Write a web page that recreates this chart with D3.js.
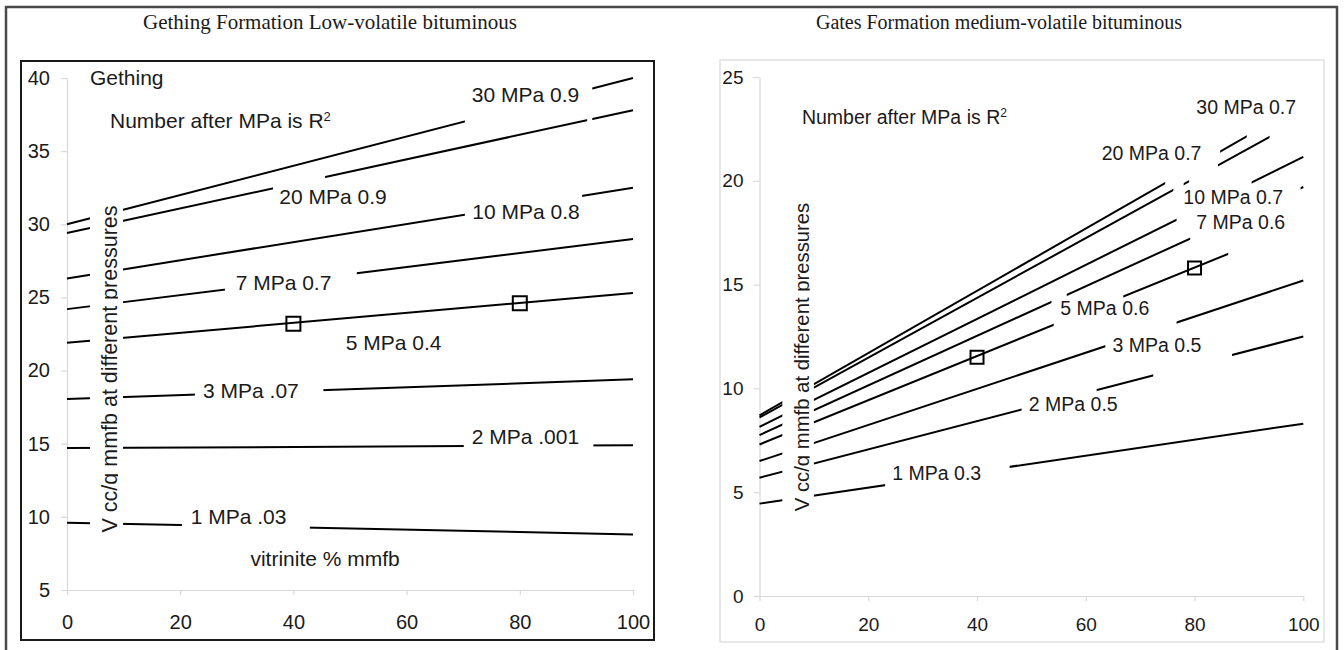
<!DOCTYPE html>
<html>
<head>
<meta charset="utf-8">
<script src="https://cdn.jsdelivr.net/npm/d3@7/dist/d3.min.js"></script>
<style>
  html, body { margin: 0; padding: 0; background: #fff; }
  svg { display: block; }
  .tick text { fill: #1a1a1a; }
</style>
</head>
<body>
<svg id="chart" width="1344" height="650"></svg>
<script>
// ---- data -------------------------------------------------------------
const xTicks = [0, 20, 40, 60, 80, 100];
const pressures = ["30 MPa", "20 MPa", "10 MPa", "7 MPa", "5 MPa", "3 MPa", "2 MPa", "1 MPa"];

// Gething Formation, low-volatile bituminous: trend lines (value at 0 % and 100 % vitrinite)
const gethingTicks = [5, 10, 15, 20, 25, 30, 35, 40];
const gethingR2 = ["0.9", "0.9", "0.8", "0.7", "0.4", ".07", ".001", ".03"];
const gethingAt0 = [30.0, 29.4, 26.3, 24.2, 21.9, 18.05, 14.7, 9.6];
const gethingAt100 = [40.0, 37.8, 32.5, 29.0, 25.3, 19.4, 14.9, 8.8];
const gethingSampleX = [40, 80];
const gethingSampleY = [23.2, 24.6];

// Gates Formation, medium-volatile bituminous
const gatesTicks = [0, 5, 10, 15, 20, 25];
const gatesR2 = ["0.7", "0.7", "0.7", "0.6", "0.6", "0.5", "0.5", "0.3"];
const gatesAt0 = [8.7, 8.6, 8.15, 7.75, 7.3, 6.5, 5.7, 4.45];
const gatesAt100 = [23.7, 23.0, 21.15, 19.7, 17.95, 15.2, 12.5, 8.3];
const gatesSampleX = [40, 80];
const gatesSampleY = [11.5, 15.8];

// ---- layout -----------------------------------------------------------
const svg = d3.select("#chart");
const FONT = "'Liberation Sans', Arial, sans-serif";
const INK = "#1a1a1a";

// outer frame around the whole figure
svg.append("rect")
  .attr("x", 6).attr("y", 7).attr("width", 1331).attr("height", 660)
  .attr("fill", "none").attr("stroke", "#4a4a4a").attr("stroke-width", 2.5);

const panels = [
  {
    id: "gething",
    title: "Gething Formation Low-volatile bituminous",
    titleX: 330, titleSize: 21,
    frame: { x: 21, y: 61, w: 633, h: 579, stroke: "#1a1a1a", width: 2 },
    xRange: [67, 633], yRange: [590, 78], yDomain: [5, 40],
    yTicks: gethingTicks, at0: gethingAt0, at100: gethingAt100, r2: gethingR2,
    sampleX: gethingSampleX, sampleY: gethingSampleY,
    tickFont: 20, xTickPad: 20, yTickPad: 11, labelFont: 21, markerSide: 14,
    // x-ranges (vitrinite %) where each line is broken to leave room for text
    breaks: [
      [[4.06, 9.9], [70.3, 92.8]],
      [[4.06, 9.9], [36.4, 45.6], [91.9, 92.8]],
      [[4.06, 9.9], [70.3, 91]],
      [[4.06, 9.9], [27.9, 51.2]],
      [[4.06, 9.9]],
      [[4.06, 9.9], [22.6, 45.3]],
      [[4.06, 9.9], [70.1, 93]],
      [[4.06, 9.9], [20.3, 42.9]]
    ],
    // series label anchors (centre of text) in data units
    labelAt: [[81.0, 38.83], [47.0, 31.86], [81.1, 30.84], [38.25, 25.98],
              [57.7, 21.88], [32.5, 18.6], [81.0, 15.46], [30.3, 9.99]],
    notes: [
      { text: "Gething", x: 4.06, y: 40.0, anchor: "start" },
      { text: "vitrinite % mmfb", x: 45.6, y: 7.12, anchor: "middle" }
    ],
    r2Note: { x: 7.6, y: 37.06 },
    yTitle: { baselineX: 117, centerY: 369, size: 21.5 }
  },
  {
    id: "gates",
    title: "Gates Formation medium-volatile bituminous",
    titleX: 999, titleSize: 20,
    frame: { x: 720, y: 60, w: 604, h: 582, stroke: "#d9d9d9", width: 1.2 },
    xRange: [759.5, 1303.3], yRange: [596, 77], yDomain: [0, 25],
    yTicks: gatesTicks, at0: gatesAt0, at100: gatesAt100, r2: gatesR2,
    sampleX: gatesSampleX, sampleY: gatesSampleY,
    tickFont: 19, xTickPad: 17, yTickPad: 10, labelFont: 19.5, markerSide: 13,
    breaks: [
      [[4.2, 10], [74.6, 84.7], [89.6, 101]],
      [[4.2, 10], [76.1, 78], [79, 84.3], [93.8, 101]],
      [[4.2, 10], [76.7, 90.5]],
      [[4.2, 10], [53.7, 56.5], [79.2, 99.5]],
      [[4.2, 10], [54.1, 66.9], [86.2, 101]],
      [[4.2, 10], [63.6, 76.7]],
      [[4.2, 10], [48.2, 62], [72.4, 86.9]],
      [[4.2, 10], [23.1, 46]]
    ],
    labelAt: [[89.5, 23.57], [72.1, 21.35], [87.1, 19.23], [88.5, 18.03],
              [63.5, 13.86], [73.1, 12.09], [57.7, 9.25], [32.6, 5.91]],
    notes: [],
    r2Note: { x: 7.8, y: 23.06 },
    yTitle: { baselineX: 808.7, centerY: 357, size: 20.3 }
  }
];

const defs = svg.append("defs");

panels.forEach(p => {
  const g = svg.append("g").attr("class", p.id);

  // panel title
  g.append("text")
    .attr("x", p.titleX).attr("y", 28.5)
    .attr("text-anchor", "middle")
    .attr("font-family", "'Liberation Serif', 'Times New Roman', serif")
    .attr("font-size", p.titleSize).attr("fill", INK)
    .text(p.title);

  // plot frame
  g.append("rect")
    .attr("x", p.frame.x).attr("y", p.frame.y)
    .attr("width", p.frame.w).attr("height", p.frame.h)
    .attr("fill", "none").attr("stroke", p.frame.stroke)
    .attr("stroke-width", p.frame.width);

  const x = d3.scaleLinear().domain([0, 100]).range(p.xRange);
  const y = d3.scaleLinear().domain(p.yDomain).range(p.yRange);

  // axes
  const xAxis = g.append("g")
    .attr("transform", `translate(0,${p.yRange[0]})`)
    .call(d3.axisBottom(x).tickValues(xTicks).tickSize(5).tickSizeOuter(0)
      .tickPadding(p.xTickPad).tickFormat(d3.format("d")));
  const yAxis = g.append("g")
    .attr("transform", `translate(${p.xRange[0]},0)`)
    .call(d3.axisLeft(y).tickValues(p.yTicks).tickSize(6).tickSizeOuter(0)
      .tickPadding(p.yTickPad).tickFormat(d3.format("d")));
  [xAxis, yAxis].forEach(a => {
    a.select(".domain").attr("stroke", "#d9d9d9").attr("stroke-width", 1.2);
    a.selectAll(".tick line").attr("stroke", "#d9d9d9").attr("stroke-width", 1.2);
    a.selectAll(".tick text").attr("font-family", FONT).attr("font-size", p.tickFont).attr("fill", INK);
  });

  // trend lines, one per pressure, broken where text sits
  const line = d3.line().x(d => x(d[0])).y(d => y(d[1]));
  pressures.forEach((name, i) => {
    const maskId = `${p.id}-gap-${i}`;
    const mask = defs.append("mask").attr("id", maskId)
      .attr("maskUnits", "userSpaceOnUse")
      .attr("x", 0).attr("y", 0).attr("width", 1344).attr("height", 650);
    mask.append("rect").attr("x", 0).attr("y", 0)
      .attr("width", 1344).attr("height", 650).attr("fill", "#fff");
    p.breaks[i].forEach(([a, b]) => {
      mask.append("rect")
        .attr("x", x(a)).attr("y", 0)
        .attr("width", x(b) - x(a)).attr("height", 650)
        .attr("fill", "#000");
    });
    g.append("path")
      .datum([[0, p.at0[i]], [100, p.at100[i]]])
      .attr("d", line)
      .attr("fill", "none").attr("stroke", "#000")
      .attr("stroke-width", 2).attr("mask", `url(#${maskId})`);

    // series label: pressure and R²
    const [lx, ly] = p.labelAt[i];
    g.append("text")
      .attr("x", x(lx)).attr("y", y(ly)).attr("dy", "0.35em")
      .attr("text-anchor", "middle")
      .attr("font-family", FONT).attr("font-size", p.labelFont).attr("fill", INK)
      .text(`${name} ${p.r2[i]}`);
  });

  // measured samples on the 5 MPa line
  const sq = d3.symbol().type(d3.symbolSquare).size(p.markerSide * p.markerSide);
  g.selectAll("path.sample")
    .data(p.sampleX.map((vx, k) => [vx, p.sampleY[k]]))
    .join("path").attr("class", "sample")
    .attr("transform", d => `translate(${x(d[0])},${y(d[1])})`)
    .attr("d", sq)
    .attr("fill", "none").attr("stroke", "#000").attr("stroke-width", 2);

  // free-standing notes
  p.notes.forEach(n => {
    g.append("text")
      .attr("x", x(n.x)).attr("y", y(n.y)).attr("dy", "0.35em")
      .attr("text-anchor", n.anchor)
      .attr("font-family", FONT).attr("font-size", p.labelFont).attr("fill", INK)
      .text(n.text);
  });

  const r2 = g.append("text")
    .attr("x", x(p.r2Note.x)).attr("y", y(p.r2Note.y)).attr("dy", "0.35em")
    .attr("font-family", FONT).attr("font-size", p.labelFont).attr("fill", INK)
    .text("Number after MPa is R");
  r2.append("tspan")
    .attr("dy", "-0.55em").attr("font-size", p.labelFont * 0.62)
    .text("2");

  // y-axis title, rotated; its box ends at the baseline so descenders are cut off
  const clipId = `${p.id}-ytitle-clip`;
  defs.append("clipPath").attr("id", clipId)
    .append("rect")
    .attr("x", p.yTitle.baselineX - 40).attr("y", 0)
    .attr("width", 41).attr("height", 650);
  g.append("g").attr("clip-path", `url(#${clipId})`)
    .append("text")
    .attr("transform", `translate(${p.yTitle.baselineX},${p.yTitle.centerY}) rotate(-90)`)
    .attr("text-anchor", "middle")
    .attr("font-family", FONT).attr("font-size", p.yTitle.size).attr("fill", INK)
    .text("V cc/g mmfb at different pressures");
});
</script>
</body>
</html>
